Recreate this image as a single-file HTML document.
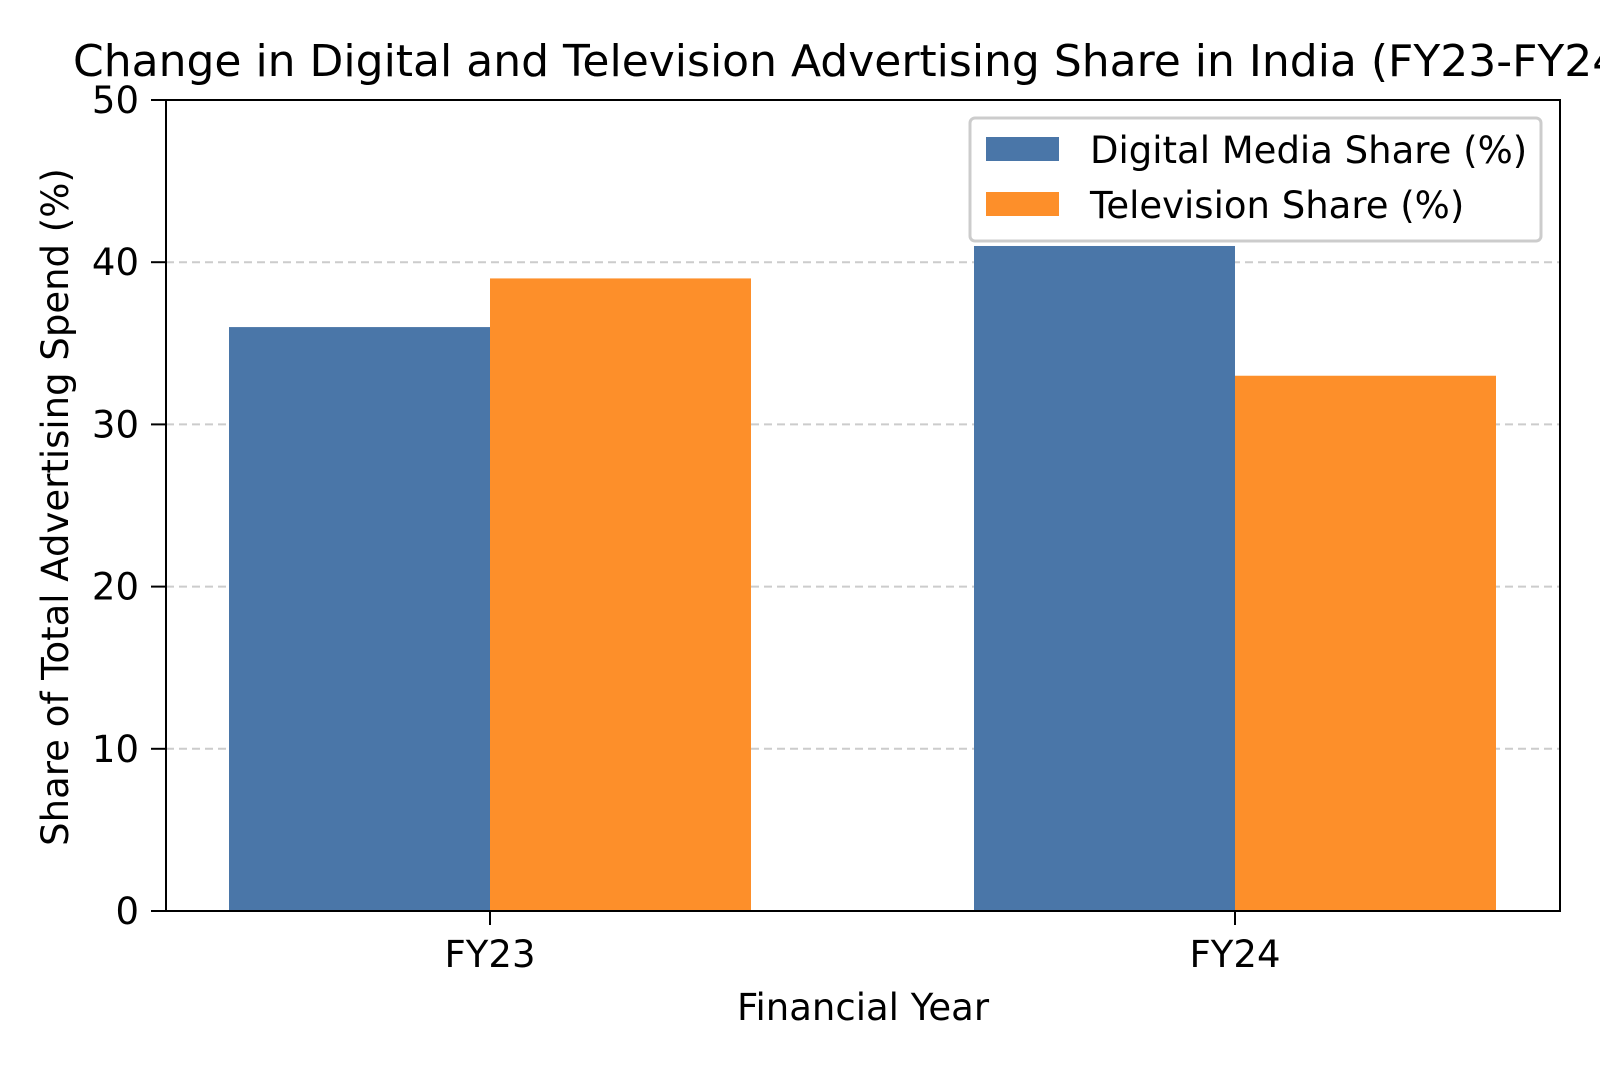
<!DOCTYPE html>
<html><head><meta charset="utf-8"><style>
body{margin:0;background:#fff}
svg text{font-family:"DejaVu Sans","Liberation Sans",sans-serif;fill:#000}
</style></head><body>
<svg width="1600" height="1067" viewBox="0 0 1600 1067">
<text x="73" y="76" font-size="44">Change in Digital and Television Advertising Share in India (FY23-FY24)</text>
<g id="grid"></g>
<g id="bars"></g>
<rect x="166" y="100" width="1394" height="811" fill="none" stroke="#000" stroke-width="2"/>
<g id="yticks"></g>
<g id="xticks"></g>
<text transform="translate(68,507) rotate(-90)" text-anchor="middle" font-size="37">Share of Total Advertising Spend (%)</text>
<text x="863" y="1020" text-anchor="middle" font-size="37">Financial Year</text>
<g>
<rect x="970" y="118" width="571" height="123" rx="5" fill="#fff" fill-opacity="0.85" stroke="#ccc" stroke-width="3"/>
<rect x="986" y="137" width="73" height="24" fill="#4a76a8"/>
<text x="1090" y="163" font-size="37">Digital Media Share (%)</text>
<rect x="986" y="192" width="73" height="24" fill="#fd8f2a"/>
<text x="1090" y="218" font-size="37">Television Share (%)</text>
</g>
</svg>
<script>
const categories=["FY23","FY24"];
const digital=[36,41];
const television=[39,33];
const yTicks=[0,10,20,30,40,50];
const NS="http://www.w3.org/2000/svg";
const L=166,R=1560,T=100,B=911,yMax=50;
const y=v=>B-(v/yMax)*(B-T);
const catX=[490,1235];
const x=i=>catX[0]+i*(catX[1]-catX[0]);
const bw=261;
function mk(tag,a,p){const e=document.createElementNS(NS,tag);for(const k in a)e.setAttribute(k,a[k]);document.getElementById(p).appendChild(e);return e;}
yTicks.forEach(t=>{
 if(t>0&&t<yMax){const g=mk('line',{x1:L,x2:R,y1:y(t),y2:y(t),stroke:'#ccc','stroke-width':2,'stroke-dasharray':'8,5'},'grid');
 
 }
 const tk=mk('line',{x1:L-15,x2:L,y1:y(t),y2:y(t),stroke:'#000','stroke-width':2},'yticks');
 
 
 const tx=mk('text',{x:L-27,y:y(t)+13,'text-anchor':'end','font-size':37},'yticks');tx.textContent=t;
 
 
});
categories.forEach((c,i)=>{
 const cx=x(i);
 const b1=mk('rect',{x:cx-bw,y:y(digital[i]),width:bw,height:B-y(digital[i]),fill:'#4a76a8'},'bars');
 
 
 const b2=mk('rect',{x:cx,y:y(television[i]),width:bw,height:B-y(television[i]),fill:'#fd8f2a'},'bars');
 
 
 const tk=mk('line',{x1:cx,x2:cx,y1:B,y2:B+14,stroke:'#000','stroke-width':2},'xticks');
 
 
 const tx=mk('text',{x:cx,y:967,'text-anchor':'middle','font-size':37},'xticks');tx.textContent=c;
 
 
});
</script>
</body></html>
